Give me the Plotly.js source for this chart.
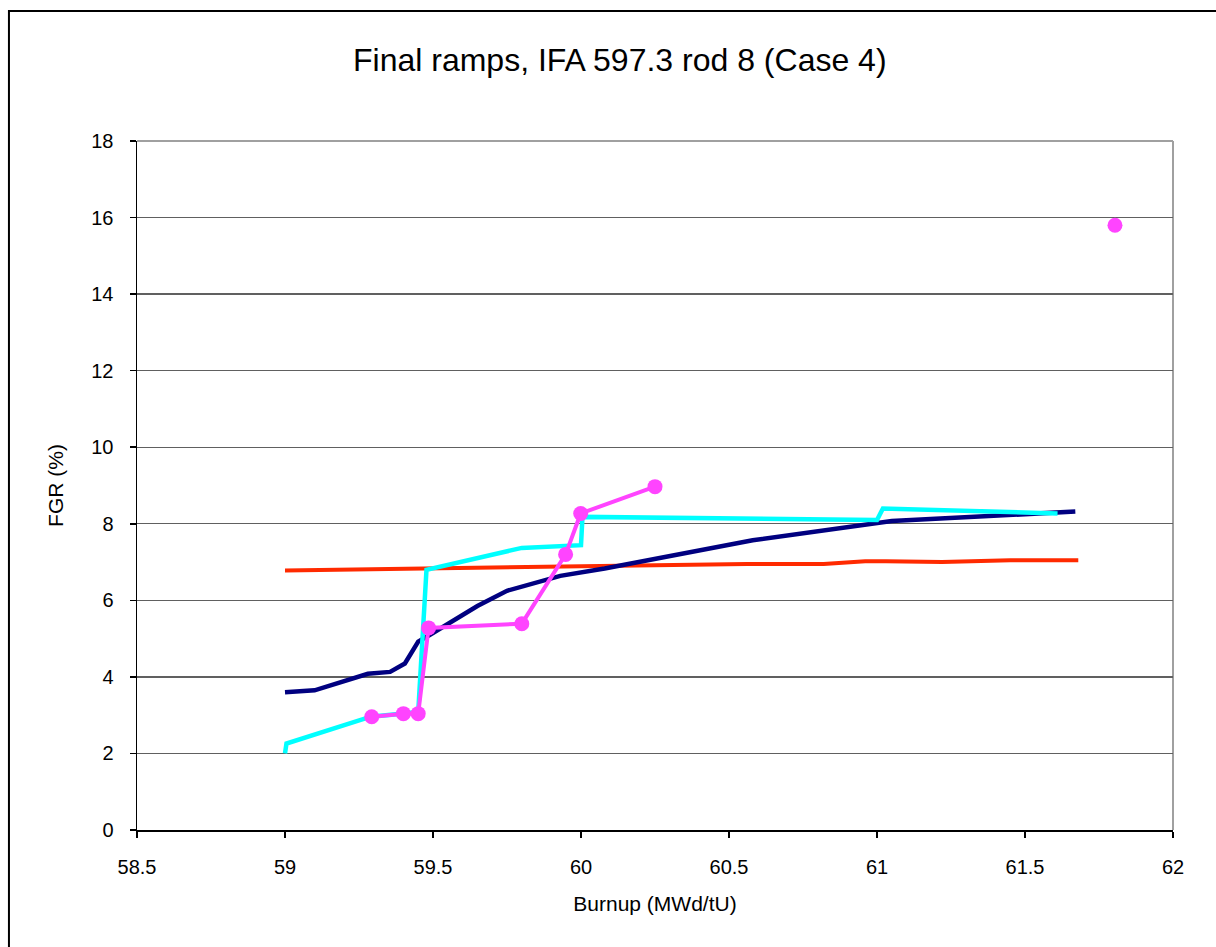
<!DOCTYPE html>
<html>
<head>
<meta charset="utf-8">
<script src="https://cdn.plot.ly/plotly-3.0.1.min.js"></script>
<style>
  html, body { margin: 0; padding: 0; background: #fff; }
  #chart { width: 1216px; height: 947px; }
</style>
</head>
<body>
<div id="chart"></div>
<script>
// Dark blue calculated curve
const navyBurnup = [59.0, 59.1, 59.28, 59.355, 59.405, 59.45, 59.49, 59.65, 59.75, 59.93, 60.08, 60.58, 61.05, 61.67];
const navyFGR    = [3.6, 3.65, 4.08, 4.13, 4.35, 4.92, 5.1, 5.85, 6.25, 6.64, 6.83, 7.57, 8.07, 8.32];

// Cyan calculated curve
const cyanBurnup = [59.0, 59.005, 59.29, 59.4, 59.45, 59.478, 59.8, 60.0, 60.005, 61.0, 61.02, 61.61];
const cyanFGR    = [2.0, 2.26, 2.96, 3.06, 3.08, 6.8, 7.37, 7.44, 8.18, 8.10, 8.40, 8.27];

// Red calculated curve
const redBurnup = [59.0, 60.22, 60.51, 60.56, 60.82, 60.96, 61.03, 61.22, 61.45, 61.66, 61.68];
const redFGR    = [6.78, 6.9, 6.95, 6.95, 6.95, 7.02, 7.02, 7.0, 7.05, 7.05, 7.05];

// Magenta measured points (gap before the final isolated point)
const measBurnup = [59.293, 59.4, 59.45, 59.485, 59.8, 59.948, 59.999, 60.25, null, 61.804];
const measFGR    = [2.96, 3.04, 3.04, 5.28, 5.39, 7.20, 8.27, 8.97, null, 15.80];

const xTicks = [58.5, 59, 59.5, 60, 60.5, 61, 61.5, 62];
const xTickText = ['58.5', '59', '59.5', '60', '60.5', '61', '61.5', '62'];
const yTicks = [0, 2, 4, 6, 8, 10, 12, 14, 16, 18];

const FONT = '"Liberation Sans", Arial, sans-serif';

const traces = [
  { x: redBurnup, y: redFGR, mode: 'lines', line: { color: '#FF2A00', width: 4 }, name: 'red' },
  { x: navyBurnup, y: navyFGR, mode: 'lines', line: { color: '#000080', width: 4.5 }, name: 'navy' },
  { x: cyanBurnup, y: cyanFGR, mode: 'lines', line: { color: '#00FFFF', width: 4.5 }, name: 'cyan' },
  { x: measBurnup, y: measFGR, mode: 'lines+markers', connectgaps: false,
    line: { color: '#FF44FF', width: 4 }, marker: { color: '#FF44FF', size: 15 }, name: 'meas' }
];

const layout = {
  width: 1216, height: 947,
  margin: { l: 137, r: 43, t: 141, b: 117, pad: 0 },
  paper_bgcolor: '#ffffff', plot_bgcolor: '#ffffff',
  showlegend: false,
  font: { family: FONT, color: '#000', size: 20 },
  title: { text: 'Final ramps, IFA 597.3 rod 8 (Case 4)', font: { family: FONT, size: 32, color: '#000' },
           x: 0.466, xref: 'paper', xanchor: 'center', y: 0.937, yref: 'container', yanchor: 'middle' },
  xaxis: {
    range: [58.5, 62], tickmode: 'array', tickvals: xTicks, ticktext: xTickText,
    showgrid: false, zeroline: false,
    showline: true, linecolor: '#000', linewidth: 1.5,
    ticks: 'outside', ticklen: 6, tickcolor: '#000', tickwidth: 1.5,
    tickfont: { family: FONT, size: 20, color: '#000' }, ticklabelstandoff: 12,
    title: { text: 'Burnup (MWd/tU)', font: { family: FONT, size: 21, color: '#000' }, standoff: 20 }
  },
  yaxis: {
    range: [0, 18], tickmode: 'array', tickvals: yTicks,
    showgrid: true, gridcolor: '#606060', gridwidth: 1.3, zeroline: false,
    showline: true, linecolor: '#000', linewidth: 1.5,
    ticks: 'outside', ticklen: 6, tickcolor: '#000', tickwidth: 1.5,
    tickfont: { family: FONT, size: 20, color: '#000' }, ticklabelstandoff: 12,
    title: { text: 'FGR (%)', font: { family: FONT, size: 21, color: '#000' }, standoff: 22 }
  },
  shapes: [
    { type: 'line', xref: 'paper', yref: 'paper', x0: 0, x1: 1, y0: 1, y1: 1, line: { color: '#A0A0A0', width: 2 }, layer: 'below' },
    { type: 'line', xref: 'paper', yref: 'paper', x0: 1, x1: 1, y0: 0, y1: 1, line: { color: '#A0A0A0', width: 2 }, layer: 'below' },
    { type: 'rect', xref: 'paper', yref: 'paper', x0: -0.1236, x1: 1.06, y0: -0.2, y1: 1.1887,
      line: { color: '#000', width: 2 }, fillcolor: 'rgba(0,0,0,0)', layer: 'below' }
  ]
};

Plotly.newPlot('chart', traces, layout, { displayModeBar: false, responsive: false, staticPlot: true });
</script>
</body>
</html>
